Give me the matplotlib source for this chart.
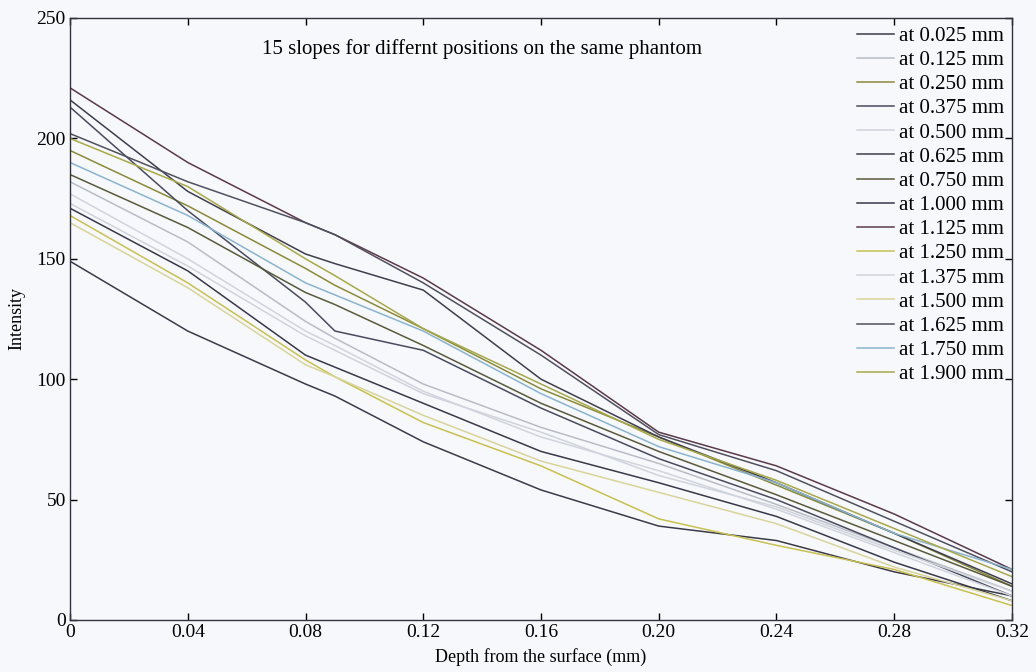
import matplotlib
matplotlib.use('Agg')
import matplotlib.pyplot as plt
import numpy as np

# depth samples (mm)
depth = [0, 0.04, 0.08, 0.09, 0.12, 0.16, 0.20, 0.24, 0.28, 0.32]

labels = ['at 0.025 mm', 'at 0.125 mm', 'at 0.250 mm', 'at 0.375 mm', 'at 0.500 mm',
          'at 0.625 mm', 'at 0.750 mm', 'at 1.000 mm', 'at 1.125 mm', 'at 1.250 mm',
          'at 1.375 mm', 'at 1.500 mm', 'at 1.625 mm', 'at 1.750 mm', 'at 1.900 mm']

# intensity profiles
s025 = [149, 120, 98, 93, 74, 54, 39, 33, 20, 10]
s125 = [182, 157, 124, 117, 98, 80, 65, 48, 30, 12]
s250 = [195, 172, 146, 139, 121, 96, 76, 56, 36, 14]
s375 = [213, 170, 132, 120, 112, 88, 67, 50, 30, 10]
s500 = [173, 147, 118, 112, 94, 78, 60, 47, 29, 12]
s625 = [216, 178, 152, 148, 137, 100, 76, 57, 36, 15]
s750 = [185, 163, 136, 131, 114, 90, 70, 52, 33, 14]
s1000 = [171, 145, 110, 105, 90, 70, 57, 43, 24, 8]
s1125 = [221, 190, 165, 160, 142, 112, 78, 64, 44, 21]
s1250 = [168, 140, 108, 101, 82, 64, 42, 31, 21, 6]
s1375 = [177, 150, 120, 114, 95, 76, 62, 46, 28, 10]
s1500 = [165, 138, 106, 101, 85, 66, 53, 40, 22, 8]
s1625 = [202, 182, 165, 160, 140, 110, 77, 62, 41, 20]
s1750 = [190, 168, 140, 135, 120, 94, 72, 57, 36, 21]
s1900 = [200, 180, 150, 143, 121, 98, 75, 58, 38, 18]

series = [s025, s125, s250, s375, s500, s625, s750, s1000, s1125, s1250,
          s1375, s1500, s1625, s1750, s1900]

colors = ['#3a3a48', '#b8bcc4', '#8a8a3a', '#4a4a5e', '#cfd3da',
          '#3e3e4c', '#5a5a3a', '#383848', '#5a3a4a', '#c8c050',
          '#d0d4dc', '#d8d49a', '#50505e', '#8ab4cc', '#a8a848']

plt.rcParams['font.family'] = ['Liberation Serif', 'DejaVu Serif']

bg = '#f7f8fc'
fig = plt.figure(figsize=(10.36, 6.72), dpi=100, facecolor=bg)
ax = fig.add_axes([70 / 1036, 52 / 672, 942 / 1036, 602 / 672])
ax.set_facecolor(bg)

for y, c, lab in zip(series, colors, labels):
    ax.plot(depth, y, color=c, lw=1.1, label=lab)

ax.set_xlim(0, 0.32)
ax.set_ylim(0, 250)
xt = [0, 0.04, 0.08, 0.12, 0.16, 0.20, 0.24, 0.28, 0.32]
ax.set_xticks(xt)
ax.set_xticklabels(['0', '0.04', '0.08', '0.12', '0.16', '0.20', '0.24', '0.28', '0.32'])
ax.set_yticks([0, 50, 100, 150, 200, 250])
ax.tick_params(direction='in', top=True, right=True, labelsize=14, length=5, width=1, pad=3)
for sp in ax.spines.values():
    sp.set_color('#333340')
    sp.set_linewidth(1)

ax.set_xlabel('Depth from the surface (mm)', fontsize=13, labelpad=5)
ax.set_ylabel('Intensity', fontsize=13, labelpad=8)

ax.text(0.14, 237, '15 slopes for differnt positions on the same phantom',
        fontsize=15, ha='center', va='center')

leg = ax.legend(loc='upper right', frameon=False, fontsize=15, handlelength=1.8,
                handletextpad=0.2, labelspacing=0.22, borderaxespad=0.3,
                borderpad=0.1)

fig.savefig('out.png', dpi=100, facecolor=bg)
